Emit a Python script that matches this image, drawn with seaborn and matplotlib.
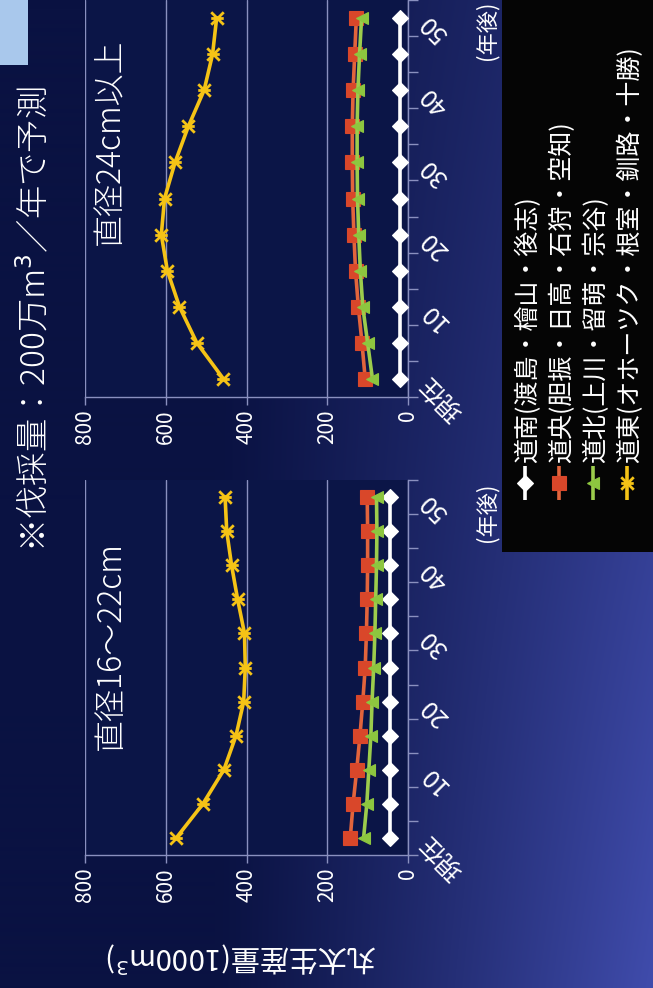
import numpy as np
import pandas as pd
import matplotlib
matplotlib.use("Agg")
import matplotlib.pyplot as plt
import seaborn as sns
from matplotlib.path import Path
from matplotlib.patches import Rectangle

# ---------------- data ----------------
years = ["現在", "5", "10", "15", "20", "25", "30", "35", "40", "45", "50"]
year_labels = ["現在", "", "10", "", "20", "", "30", "", "40", "", "50"]
regions = ["道南(渡島・檜山・後志)", "道央(胆振・日高・石狩・空知)",
           "道北(上川・留萌・宗谷)", "道東(オホーツク・根室・釧路・十勝)"]
value_ticks = [0, 200, 400, 600, 800]

# 直径16～22cm (thousand m3)
small_donan = [45, 45, 45, 45, 45, 45, 45, 45, 45, 45, 45]
small_doou = [143, 136, 127, 119, 112, 106, 103, 101, 100, 100, 101]
small_dohoku = [110, 102, 97, 92, 89, 85, 82, 80, 78, 77, 78]
small_doto = [574, 508, 456, 426, 407, 403, 405, 422, 437, 449, 453]

# 直径24cm以上 (thousand m3)
large_donan = [20, 20, 20, 20, 20, 20, 20, 20, 20, 20, 20]
large_doou = [106, 114, 123, 130, 134, 137, 138, 138, 136, 132, 128]
large_dohoku = [88, 100, 112, 118, 122, 125, 126, 126, 124, 120, 115]
large_doto = [457, 523, 566, 596, 611, 603, 577, 544, 505, 484, 474]

# ---------------- style ----------------
sns.set_style("white")
plt.rcParams["font.family"] = ["Noto Sans CJK JP", "DejaVu Sans"]
plt.rcParams["mathtext.fontset"] = "dejavusans"

W, H = 653, 988
fig = plt.figure(figsize=(W / 100, H / 100), dpi=100)

# background gradient
bg = fig.add_axes([0, 0, 1, 1], zorder=-10)
u = np.linspace(0, 1, W)[None, :]
v = np.linspace(0, 1, H)[:, None]
t = np.clip((u - 0.33) / 0.67, 0, 1) ** 1.15 * (0.55 + 0.45 * v)
dark = np.array([10, 18, 66]) / 255
light = np.array([64, 76, 172]) / 255
img = dark[None, None, :] + t[..., None] * (light - dark)[None, None, :]
bg.imshow(img, aspect="auto", extent=[0, 1, 0, 1])
bg.set_axis_off()

fig.patches.append(Rectangle((0, 1 - 65 / H), 28 / W, 65 / H, transform=fig.transFigure,
                             facecolor="#a9c8ec", edgecolor="none", zorder=-5))

colors = ["#ffffff", "#d9472a", "#8dc63f", "#f5c316"]
line_colors = ["#ffffff", "#e2643c", "#9ccc4c", "#f5c316"]
star = Path([(-1, -1), (1, 1), (-1, 1), (1, -1), (-1, 0), (1, 0)],
            [Path.MOVETO, Path.LINETO, Path.MOVETO, Path.LINETO, Path.MOVETO, Path.LINETO])
markers = ["D", "s", "<", star]
msizes = [8, 9.5, 9, 9]

panels = [
    ("top", [large_donan, large_doou, large_dohoku, large_doto],
     [85 / W, 1 - 397 / H, 323 / W, 397 / H], (-0.5, 10.44)),
    ("bot", [small_donan, small_doou, small_dohoku, small_doto],
     [85 / W, 1 - 855 / H, 323 / W, 375 / H], (-0.5, 10.5)),
]

pos = np.arange(len(years))
grid_col = "#8a90bf"
for name, series, rect, ylim in panels:
    ax = fig.add_axes(rect)
    ax.set_facecolor("#0b1547")
    for i in range(4):
        df = pd.DataFrame({"value": series[i], "pos": pos})
        sns.lineplot(data=df, x="value", y="pos", orient="y", errorbar=None, ax=ax,
                     color=line_colors[i], lw=2.6, marker=markers[i], markersize=msizes[i],
                     markerfacecolor=colors[i], markeredgecolor=colors[i],
                     markeredgewidth=2.0 if i == 3 else 0.8, zorder=3 + i, legend=False)
    ax.set_xlim(800, 0)
    ax.set_ylim(*ylim)
    ax.set_xlabel("")
    ax.set_ylabel("")
    ax.set_xticks(value_ticks)
    ax.set_xticklabels([str(x) for x in value_ticks], rotation=90, fontsize=15, color="white")
    ax.tick_params(axis="x", which="major", direction="out", length=6, width=1,
                   color=grid_col, pad=3, bottom=True)
    ax.grid(axis="x", color=grid_col, lw=1)
    ax.grid(axis="y", visible=False)
    ax.yaxis.tick_right()
    ax.set_yticks(pos)
    ax.set_yticklabels(year_labels, rotation=135, rotation_mode="anchor",
                       ha="right", va="center", fontsize=18, color="white")
    ax.set_yticks(np.arange(-0.5, len(years), 1), minor=True)
    ax.tick_params(axis="y", which="major", length=0, pad=12, right=True, left=False)
    ax.tick_params(axis="y", which="minor", length=7, width=1, color=grid_col,
                   direction="out", right=True, left=False)
    for s in ["left", "top"]:
        ax.spines[s].set_visible(False)
    for s in ["bottom", "right"]:
        ax.spines[s].set_color(grid_col)
        ax.spines[s].set_linewidth(1)

# texts
fig.text(36 / W, 1 - 552 / H, "※伐採量：200万m$^3$／年で予測", rotation=90, rotation_mode="anchor",
         ha="left", va="center", fontsize=24, color="white", fontweight="light")
fig.text(110 / W, 1 - 245 / H, "直径24cm以上", rotation=90, rotation_mode="anchor",
         ha="left", va="center", fontsize=23, color="white", fontweight="light")
fig.text(111 / W, 1 - 750 / H, "直径16～22cm", rotation=90, rotation_mode="anchor",
         ha="left", va="center", fontsize=23, color="white", fontweight="light")
fig.text(242 / W, 1 - 957 / H, "丸太生産量(1000m$^3$)", rotation=180, rotation_mode="anchor",
         ha="center", va="center", fontsize=21, color="white")
fig.text(487 / W, 1 - 30 / H, "(年後)", rotation=90, rotation_mode="anchor",
         ha="center", va="center", fontsize=16, color="white")
fig.text(487 / W, 1 - 512 / H, "(年後)", rotation=90, rotation_mode="anchor",
         ha="center", va="center", fontsize=16, color="white")

# legend (rotated layout)
lg = fig.add_axes([502 / W, 1 - 552 / H, 151 / W, 552 / H], zorder=5)
lg.set_facecolor("#050505")
lg.set_xlim(0, 151)
lg.set_ylim(552, 0)
lg.set_xticks([])
lg.set_yticks([])
for s in lg.spines.values():
    s.set_visible(False)
for i, name in enumerate(regions):
    x = 23 + 34 * i
    lg.plot([x, x], [500, 466], color=line_colors[i], lw=2.6, solid_capstyle="butt")
    lg.plot([x], [483], marker=markers[i], color=colors[i], markersize=msizes[i],
            markeredgecolor=colors[i], markeredgewidth=2.0 if i == 3 else 0.8)
    lg.text(x + 3, 463, name, rotation=90, rotation_mode="anchor", ha="left", va="center",
            fontsize=18, color="white")

fig.savefig("out.png", dpi=100)
